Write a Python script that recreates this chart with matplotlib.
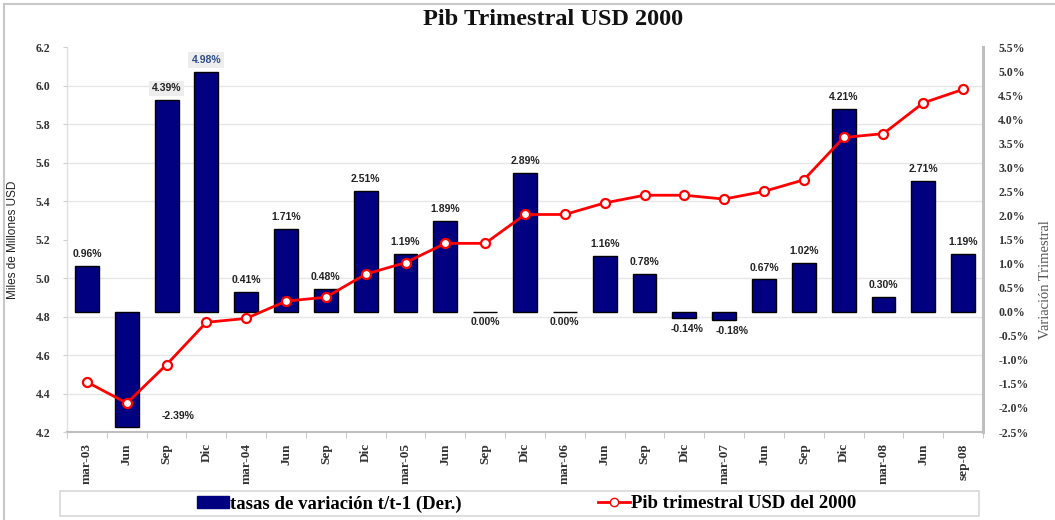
import numpy as np
import matplotlib
matplotlib.use("Agg")
import matplotlib.pyplot as plt
from matplotlib.lines import Line2D
from matplotlib.patches import Patch, Rectangle

# data
periodos = ["mar-03", "Jun", "Sep", "Dic", "mar-04", "Jun", "Sep", "Dic",
            "mar-05", "Jun", "Sep", "Dic", "mar-06", "Jun", "Sep", "Dic",
            "mar-07", "Jun", "Sep", "Dic", "mar-08", "Jun", "sep-08"]
tasas = [0.96, -2.39, 4.39, 4.98, 0.41, 1.71, 0.48, 2.51, 1.19, 1.89, 0.00, 2.89,
         0.00, 1.16, 0.78, -0.14, -0.18, 0.67, 1.02, 4.21, 0.30, 2.71, 1.19]
pib = [4.46, 4.35, 4.55, 4.77, 4.79, 4.88, 4.90, 5.02, 5.08, 5.18, 5.18, 5.33,
       5.33, 5.39, 5.43, 5.43, 5.41, 5.45, 5.51, 5.73, 5.75, 5.91, 5.98]
izq_ticks = [4.2, 4.4, 4.6, 4.8, 5.0, 5.2, 5.4, 5.6, 5.8, 6.0, 6.2]
der_ticks = [-2.5, -2.0, -1.5, -1.0, -0.5, 0.0, 0.5, 1.0, 1.5, 2.0, 2.5, 3.0,
             3.5, 4.0, 4.5, 5.0, 5.5]

serif = "Liberation Serif"
sans = "Liberation Sans"
gris = "#BFBFBF"

fig = plt.figure(figsize=(10.55, 5.2), dpi=100)
fig.patch.set_facecolor("white")
# outer border of the chart
fig.patches.append(Rectangle((0.004, -0.1), 1.2, 1.092, transform=fig.transFigure,
                             fill=False, edgecolor="#C8C8C8", lw=1.5))

ax = fig.add_axes([0.0635, 0.1692, 0.8683, 0.7404])
ax2 = ax.twinx()
x = np.arange(len(periodos))

# bars on the primary axes, scale shown on the right
ax.bar(x, tasas, width=0.6, color="#000080", edgecolor="black", lw=1.0, zorder=3)
ax.set_ylim(der_ticks[0], der_ticks[-1])
ax.set_xlim(-0.5, len(periodos) - 0.5)
ax.yaxis.tick_right()
ax.yaxis.set_label_position("right")
ax.set_yticks(der_ticks)
ax.set_yticklabels([f"{t:.1f}%" for t in der_ticks], fontfamily=serif,
                   fontweight="bold", fontsize=8.5, color="#333333")
ax.tick_params(axis="y", which="major", length=0, pad=11)
for lab in ax.get_yticklabels():
    lab.set_horizontalalignment("left")

# grid lines at the left-scale ticks, mapped to the right scale
lo, hi = izq_ticks[0], izq_ticks[-1]
grid_pos = [der_ticks[0] + (t - lo) / (hi - lo) * (der_ticks[-1] - der_ticks[0]) for t in izq_ticks]
ax.set_yticks(grid_pos, minor=True)
ax.tick_params(axis="y", which="minor", length=0)
ax.grid(True, axis="y", which="minor", color="#E6E6E6", lw=1.0, zorder=0)
ax.set_axisbelow(True)

ax.set_xticks(x)
ax.set_xticklabels(periodos, rotation=90, fontfamily=serif, fontweight="bold",
                   fontsize=9.5, color="#333333", va="top")
ax.tick_params(axis="x", which="major", length=0, pad=8)
ax.set_xticks(np.arange(len(periodos) + 1) - 0.5, minor=True)
ax.tick_params(axis="x", which="minor", length=4, color=gris, direction="out")

ax.spines["top"].set_visible(False)
ax.spines["right"].set_color(gris)
ax.spines["right"].set_linewidth(2.2)
ax.spines["bottom"].set_color(gris)
ax.spines["bottom"].set_linewidth(1.5)
ax.spines["left"].set_color("#E0E0E0")
ax.spines["left"].set_linewidth(1.0)

ax.set_ylabel("Variación Trimestral", fontfamily=serif, fontsize=10.5,
              color="#555555", rotation=90, va="center")
ax.yaxis.set_label_coords(1.068, 0.395)

# bar value labels
for i, v in enumerate(tasas):
    txt = f"{v:.2f}%"
    kw = dict(ha="center", fontfamily=sans, fontweight="bold", fontsize=7.5,
              color="#222222", textcoords="offset points", zorder=6)
    if v > 0:
        off, va = (0, 5), "bottom"
    elif v < -1:
        off, va = (37, 8), "center"
    elif v < 0:
        off, va = (2, -4), "top"
    else:
        off, va = (0, -4), "top"
    if i == 16:
        off = (6, -4)
    if i == 2:
        kw["bbox"] = dict(boxstyle="square,pad=0.25", fc="#EDEDED", ec="none")
    if i == 3:
        kw["color"] = "#2E4D8A"
        kw["bbox"] = dict(boxstyle="square,pad=0.3", fc="#EDEDED", ec="none")
    ax.annotate(txt, (i, v), xytext=off, va=va, **kw)

# line on the twin axes, scale on the left
ax2.plot(x, pib, color="#FF0000", lw=2, marker="o", ms=6.5, mfc="white",
         mec="#FF0000", mew=1.6, zorder=5)
ax2.set_ylim(lo, hi)
ax2.yaxis.tick_left()
ax2.yaxis.set_label_position("left")
ax2.set_yticks(izq_ticks)
ax2.set_yticklabels([f"{t:.1f}" for t in izq_ticks], fontfamily=serif,
                    fontweight="bold", fontsize=8.5, color="#333333")
ax2.tick_params(axis="y", length=3, color="#D0D0D0", pad=9)
for s in ax2.spines.values():
    s.set_visible(False)
ax2.set_ylabel("Miles de Millones USD", fontfamily=sans, fontsize=8.5,
               color="#222222", labelpad=12)

fig.text(0.524, 0.963, "Pib Trimestral USD 2000", ha="center", va="center",
         fontfamily=serif, fontweight="bold", fontsize=17.5, color="#111111")

# legend with its own frame
fig.patches.append(Rectangle((0.057, 0.008), 0.871, 0.048, transform=fig.transFigure,
                             fill=False, edgecolor="#D8D8D8", lw=1.2))
handles = [Patch(facecolor="#000080", edgecolor="#000080"),
           Line2D([], [], color="#FF0000", lw=2, marker="o", ms=6, mfc="white",
                  mec="#FF0000")]
fig.legend(handles, ["tasas de variación t/t-1 (Der.)", "Pib trimestral USD del 2000"],
           loc="center", bbox_to_anchor=(0.499, 0.031), ncol=2, frameon=False,
           prop=dict(family=serif, weight="bold", size=13.5), handlelength=1.7,
           handletextpad=0.05, columnspacing=7.3, handleheight=0.6)

fig.savefig("out.png", dpi=100)
